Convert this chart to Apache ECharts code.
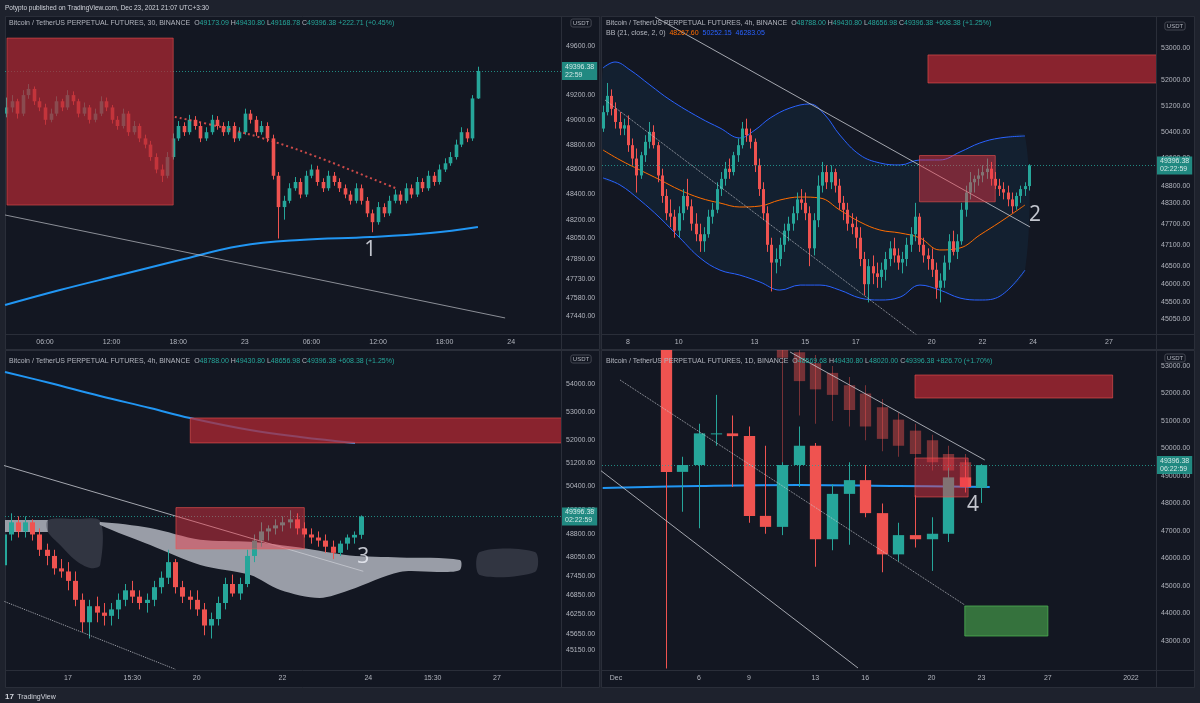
<!DOCTYPE html>
<html>
<head>
<meta charset="utf-8">
<title>BTCUSDT multi-timeframe</title>
<script src="https://cdn.jsdelivr.net/npm/echarts@6/dist/echarts.min.js"></script>
<style>
html,body{margin:0;padding:0;background:#1e222d;overflow:hidden}
#chart{width:1200px;height:703px}
</style>
</head>
<body>
<div id="chart"></div>
<script>
// ---------------- DATA ----------------
// 30m candles [open, high, low, close], index 0 = Dec 22 02:30
const m30Candles = [
[49050,49180,49020,49100],[49100,49200,49060,49150],[49150,49170,49010,49050],[49050,49240,49030,49200],
[49200,49290,49170,49250],[49250,49270,49120,49150],[49150,49180,49070,49100],[49100,49130,48960,49000],
[49000,49090,48980,49050],[49050,49190,49030,49150],[49150,49170,49070,49100],[49100,49240,49080,49200],
[49200,49230,49120,49150],[49150,49170,49020,49050],[49050,49140,49030,49100],[49100,49120,48970,49000],
[49000,49090,48980,49050],[49050,49190,49030,49150],[49150,49180,49070,49100],[49100,49120,48970,49000],
[49000,49030,48920,48950],[48950,49090,48930,49050],[49050,49070,48870,48900],[48900,48990,48880,48950],
[48950,48970,48820,48850],[48850,48880,48770,48800],[48800,48830,48670,48700],[48700,48730,48570,48600],
[48600,48640,48500,48550],[48550,48740,48530,48700],[48700,48890,48680,48850],[48850,48990,48830,48950],
[48950,48980,48870,48900],[48900,49040,48880,49000],[49000,49030,48920,48950],[48950,48980,48820,48850],
[48850,48940,48830,48900],[48900,49040,48880,49000],[49000,49030,48920,48950],[48950,48980,48870,48900],
[48900,48990,48880,48950],[48950,48980,48820,48850],[48850,48940,48830,48900],[48900,49090,48880,49050],
[49050,49080,48970,49000],[49000,49030,48870,48900],[48900,48990,48880,48950],[48950,48980,48820,48850],
[48850,48880,48520,48550],[48550,48580,48050,48300],[48300,48390,48200,48350],[48350,48490,48330,48450],
[48450,48540,48430,48500],[48500,48530,48370,48400],[48400,48590,48380,48550],[48550,48640,48530,48600],
[48600,48630,48470,48500],[48500,48530,48420,48450],[48450,48590,48430,48550],[48550,48580,48470,48500],
[48500,48530,48420,48450],[48450,48480,48370,48400],[48400,48430,48320,48350],[48350,48490,48330,48450],
[48450,48480,48320,48350],[48350,48380,48220,48250],[48250,48280,48100,48180],[48180,48340,48160,48300],
[48300,48330,48220,48250],[48250,48390,48230,48350],[48350,48440,48330,48400],[48400,48430,48320,48350],
[48350,48490,48330,48450],[48450,48480,48370,48400],[48400,48540,48380,48500],[48500,48530,48420,48450],
[48450,48590,48430,48550],[48550,48580,48470,48500],[48500,48640,48480,48600],[48600,48690,48580,48650],
[48650,48740,48630,48700],[48700,48840,48680,48800],[48800,48940,48780,48900],[48900,48930,48820,48850],
[48850,49200,48830,49173.09],[49173.09,49430.80,49168.78,49396.38]
];
// 4h candles [open, high, low, close], index 0 = Dec 7 first bar
const h4Candles = [
[50500,51200,50400,51000],[51000,51900,50900,51500],[51500,51700,50900,51100],[51100,51300,50500,50700],[50700,51000,50300,50500],[50500,50800,50300,50600],
[50600,50900,49800,50000],[50000,50200,49400,49600],[49600,49900,48600,49100],[49100,49800,49000,49700],[49700,50300,49500,50100],[50100,50700,49900,50400],
[50400,50600,49900,50000],[50000,50100,48900,49100],[49100,49300,48300,48500],[48500,48700,47800,48000],[48000,48400,47600,47900],[47900,48100,47300,47500],
[47500,48200,47300,48000],[48000,48700,47800,48500],[48500,49000,48100,48200],[48200,48400,47500,47700],[47700,48000,47200,47400],[47400,47700,46900,47200],
[47200,47600,46900,47400],[47400,48100,47300,47900],[47900,48300,47700,48100],[48100,48900,48000,48700],[48700,49200,48500,49000],[49000,49500,48800,49300],
[49300,49600,49000,49200],[49200,49800,49100,49700],[49700,50200,49500,50000],[50000,50700,49900,50500],[50500,50800,50100,50300],[50300,50500,49900,50100],
[50100,50200,49200,49400],[49400,49600,48500,48700],[48700,48900,47800,48000],[48000,48200,46900,47100],[47100,47300,45800,46600],[46600,47000,46300,46700],
[46700,47300,46500,47100],[47100,47700,46900,47500],[47500,47900,47200,47700],[47700,48200,47500,48000],[48000,48600,47800,48400],[48400,48700,48100,48300],
[48300,48600,47800,48000],[48000,48200,46500,47000],[47000,48000,46800,47800],[47800,49100,47600,48800],[48800,49500,48600,49200],[49200,49400,48700,48900],
[48900,49400,48700,49200],[49200,49300,48600,48800],[48800,49000,48100,48300],[48300,48500,47800,48100],[48100,48300,47500,47700],[47700,48000,47400,47600],
[47600,47900,47000,47300],[47300,47600,46500,46700],[46700,46900,45700,46000],[46000,46700,45500,46500],[46500,46800,46000,46300],[46300,46600,45900,46200],
[46200,46600,45900,46400],[46400,46900,46100,46700],[46700,47200,46500,47000],[47000,47300,46600,46800],[46800,47000,46400,46600],[46600,46900,46300,46700],
[46700,47300,46500,47100],[47100,47600,46900,47400],[47400,48300,47200,47900],[47900,48000,46900,47100],[47100,47300,46600,46800],[46800,47000,46400,46700],
[46700,47000,46200,46400],[46400,46600,45600,45900],[45900,46300,45500,46100],[46100,46800,45900,46600],[46600,47400,46400,47200],[47200,47500,46800,46900],
[46900,47400,46700,47200],[47200,48300,47100,48100],[48100,48800,47900,48600],[48600,49200,48400,48900],[48900,49100,48600,49000],[49000,49300,48800,49100],
[49100,49400,48900,49200],[49200,49600,49000,49300],[49300,49500,48800,49000],[49000,49200,48700,48800],[48800,49000,48500,48700],[48700,48900,48400,48600],
[48600,48800,48200,48400],[48400,48600,48000,48200],[48200,48600,48100,48500],[48500,48800,48300,48700],[48700,48900,48500,48788],[48788,49430.80,48656.98,49396.38]
];
// daily candles [open, high, low, close], first = Dec 4
const d1Candles = [
[53600,53850,42000,49150],[49150,49700,47700,49400],[49400,50900,47100,50550],[50550,51950,50100,50550],
[50550,51200,48600,50450],[50450,50800,47300,47550],[47550,50100,46900,47150],[47150,49500,46850,49400],
[49400,50800,48600,50100],[50100,50200,45700,46700],[46700,48700,46300,48350],[48350,49500,46500,48850],
[48850,49400,47500,47650],[47650,48000,45500,46150],[46150,47300,45900,46850],[46850,48300,46400,46700],
[46700,47500,45550,46900],[46900,49300,46600,48950],[48950,49600,48400,48600],[48569.68,49430.80,48020,49396.38]
];
// projected "bars pattern" drawing on the daily chart [open, high, low, close], first = Dec 11
const d1Ghost = [
[53900,54100,49300,53300],[53500,53800,51200,52450],[53100,53400,50900,52150],[52750,53000,51000,51950],
[52300,52600,50800,51400],[52000,52300,50300,50800],[51500,51800,49900,50350],[51050,51300,49700,50100],
[50650,50900,49400,49800],[50300,50500,49200,49500],[49800,50100,48900,49200],[49500,49800,48700,48850]
];
const m30Start = 0, h4Start = 0, d1Start = 4, ghostStart = 11;

// moving averages / indicators [index, price]
const m30MA = [[-0.2,47526],[9.7,47644],[20.5,47762],[31.3,47880],[42.1,47991],[52.9,48039],[65.6,48062],[76.4,48094],[85,48142]];
const m30Trail = [[30.4,49023],[39.4,48934],[48.4,48821],[57.5,48676],[66.5,48516],[70.1,48452]];
const h4MA = [[51.19,54438],[57.48,54036],[64.48,53566],[71.47,53135],[77.06,52779],[85.45,52354],[92.45,52108],[100.14,51898]];
const d1MA = [[0.2,48564],[6,48636],[12,48673],[18,48636],[23.5,48600]];
const bbUpper = [[0.07,52368],[2.9,52557],[6.5,52305],[11.2,51837],[16,51373],[23.1,50821],[27.8,50517],[32.5,50216],[36.1,50457],[39.7,50821],[44.4,51127],[49.1,51250],[52.7,50912],[56.2,50306],[61,49706],[65.7,49469],[70.5,49410],[75.2,49558],[79.9,49558],[84.7,49796],[89.4,50065],[94.2,50216],[100.1,50276]];
const bbLower = [[0.07,49027],[4.1,48821],[8.8,48382],[13.6,47863],[18.3,47293],[23.1,46730],[27.8,46391],[32.5,46252],[37.3,46059],[42,45838],[46.8,45976],[51.5,45976],[56.2,45838],[61,45619],[65.7,45566],[70.5,45646],[75.2,45976],[79.9,45838],[84.7,45619],[89.4,45566],[94.2,45674],[100.1,46391]];
const bbBasis = [[0.07,49855],[4.1,49558],[8.8,49262],[13.6,48968],[18.3,48673],[23.1,48440],[27.8,48295],[32.5,48180],[37.3,48209],[42,48382],[46.8,48469],[51.5,48440],[56.2,48093],[61,47748],[65.7,47520],[70.5,47434],[75.2,47293],[79.9,46954],[84.7,47010],[89.4,47378],[94.2,47748],[100.1,48238]];
// Ichimoku cloud pieces (upper edge, lower edge)
const kumoLight1Top = [[51.19,49278],[57.2,49278]];
const kumoLight1Bot = [[51.19,48880],[57.2,48880]];
const kumoDark1Top = [[57.2,49278],[61,49311],[64.5,49243]];
const kumoDark1Bot = [[57.2,48880],[58.9,48456],[61,47969],[63.1,47710],[64.5,47807]];
const kumoLight2Top = [[64.5,49212],[71.5,49015],[78.5,48627],[85.5,48562],[92.4,48371],[99.4,48115],[106.4,48051],[114.8,47969]];
const kumoLight2Bot = [[64.5,49114],[71.5,48456],[78.5,47807],[85.5,47487],[89.7,47010],[95.2,46759],[99.4,47010],[106.4,47583],[112,47583],[114.8,47647]];
const kumoDark2Top = [[117.6,48227],[125.3,48227]];
const kumoDark2Bot = [[117.6,47487],[125.3,47583]];

// drawings: zones [x1, x2, low, high]; lines [[x,p],[x,p]]
const m30Zones = [[0.15,30.1,48316,49665]];
const h4ResZone = [[77.1,140,51900,52780]];
const h4BoxZone = [[75.1,93.05,48330,49690]];
const d1ResZone = [[19,30.9,51836,52673]];
const d1BoxZone = [[19,22.2,48237,49655]];
const d1TargetZone = [[22,27,43182,44273]];
const m30Trend = [[-0.2,48237],[89.9,47425]];
const h4TrendUpper = [[12.4,53994],[101.3,47606]];
const h4TrendDotted = [[0.55,51373],[75,44570]];
const d1TrendSolid = [[0.04,49218],[15.57,42018]];
const d1TrendUpper = [[11.48,53509],[23.2,49582]];
const d1TrendDotted = [[1.24,52491],[22.0,44309]];

// annotations [x, price]
const notes = [[65.6,47959],[102.5,47949],[101.3,48066],[22.5,47945]];
const noteText = ['1','2','3','4'];
const lastPrice = 49396.38;
const timers = ['22:59','02:22:59','02:22:59','06:22:59'];

// tick labels
const m30TickPos = [7,19,31,43,55,67,79,91];
const m30TickText = ['06:00','12:00','18:00','23','06:00','12:00','18:00','24'];
const h4TickPosTR = [6,18,36,48,60,78,90,102,120];
const h4TickTextTR = ['8','10','13','15','17','20','22','24','27'];
const h4TickPosBL = [60,69,78,90,102,111,120];
const h4TickTextBL = ['17','15:30','20','22','24','15:30','27'];
const d1TickPos = [1,6,9,13,16,20,23,27,32];
const d1TickText = ['Dec','6','9','13','16','20','23','27','2022'];
const yTicksTL = [49600,49200,49000,48800,48600,48400,48200,48050,47890,47730,47580,47440];
const yTicksTR = [53000,52000,51200,50400,49600,48800,48300,47700,47100,46500,46000,45500,45050];
const yTicksBL = [54000,53000,52000,51200,50400,49600,48800,48050,47450,46850,46250,45650,45150];
const yTicksBR = [53000,52000,51000,50000,49000,48000,47000,46000,45000,44000,43000];

// ---------------- STYLE / BUILD ----------------
const FONT = "'Liberation Sans', Arial, sans-serif";
const UP = '#26a69a', DN = '#ef5350', TXT = '#b2b5be';
const PANEL = '#131722', SEP = '#2a2e39';
const G = [
  {left:5, top:16, width:556, height:318},
  {left:602, top:16, width:554, height:318},
  {left:5, top:350, width:556, height:320},
  {left:602, top:350, width:554, height:320}
];
const XR = [[-0.207,99.97],[-0.163,131.15],[51.19,128.95],[0.157,33.51]];
const YR = [[47299.7,49845.9,'log'],[44646.5,54026.9,'log'],[44546.4,55249.7,'log'],[41945.5,53581.8,'value']];

function xAx(i, pos, txt){
  return {type:'value', gridIndex:i, min:XR[i][0], max:XR[i][1],
    axisLine:{show:false}, axisTick:{show:false}, splitLine:{show:false},
    axisLabel:{customValues:pos, formatter:v=>{const k=pos.indexOf(v);return k<0?'':txt[k];}, color:TXT, fontSize:7, margin:5, fontFamily:FONT}};
}
function yAx(i, ticks){
  return {type:YR[i][2], logBase:10, gridIndex:i, position:'right', min:YR[i][0], max:YR[i][1],
    axisLine:{show:false}, axisTick:{show:false}, splitLine:{show:false},
    axisLabel:{customValues:ticks, formatter:v=>Number(v).toFixed(2), color:TXT, fontSize:7, margin:5, fontFamily:FONT}};
}
function clipGroup(params, children){
  const c = params.coordSys;
  return {type:'group', children, clipPath:{type:'rect', shape:{x:c.x, y:c.y, width:c.width, height:c.height}}};
}
function candleSeries(ax, rows, start, ratio, up, dn, z){
  return {type:'custom', xAxisIndex:ax, yAxisIndex:ax, z:z||3, silent:true, animation:false,
    data: rows.map((r,k)=>[start+k, r[0], r[1], r[2], r[3]]),
    encode:{x:0, y:[1,2,3,4]},
    renderItem:(params, api)=>{
      const x=api.value(0), o=api.value(1), h=api.value(2), l=api.value(3), c=api.value(4);
      const po=api.coord([x,o]), pc=api.coord([x,c]), ph=api.coord([x,h]), pl=api.coord([x,l]);
      const step=Math.abs(api.coord([x+1,o])[0]-po[0]);
      const bw=Math.max(1, step*ratio);
      const col=c>=o?up:dn;
      const top=Math.min(po[1],pc[1]), bh=Math.max(1,Math.abs(po[1]-pc[1]));
      const xc=Math.round(po[0])+0.5;
      return clipGroup(params,[
        {type:'line', shape:{x1:xc,y1:ph[1],x2:xc,y2:pl[1]}, style:{stroke:col, lineWidth:1}},
        {type:'rect', shape:{x:xc-bw/2, y:top, width:bw, height:bh}, style:{fill:col}}
      ]);
    }};
}
function zoneSeries(ax, zones, fill, stroke, z){
  return {type:'custom', xAxisIndex:ax, yAxisIndex:ax, z:z||6, silent:true, animation:false, data:zones, encode:{x:[0,1], y:[2,3]},
    renderItem:(params, api)=>{
      const a=api.coord([api.value(0), api.value(3)]), b=api.coord([api.value(1), api.value(2)]);
      return clipGroup(params,[{type:'rect', shape:{x:a[0], y:a[1], width:b[0]-a[0], height:b[1]-a[1]}, style:{fill, stroke, lineWidth:1}}]);
    }};
}
function areaSeries(ax, upper, lower, fill, z, smooth){
  return {type:'custom', xAxisIndex:ax, yAxisIndex:ax, z:z||1, silent:true, animation:false, data:[upper[0]], encode:{x:0, y:1},
    renderItem:(params, api)=>{
      const pts = upper.map(p=>api.coord(p)).concat(lower.slice().reverse().map(p=>api.coord(p)));
      return clipGroup(params,[{type:'polygon', shape:{points:pts, smooth:smooth||0}, style:{fill}}]);
    }};
}
function lineSeries(ax, pts, color, width, type, smooth, z){
  return {type:'line', xAxisIndex:ax, yAxisIndex:ax, data:pts, showSymbol:false, symbol:'none', smooth:smooth||false, clip:true, silent:true, z:z||5, animation:false,
    lineStyle:{color, width, type:type||'solid'}};
}
function priceLine(ax, timer){
  return {type:'line', xAxisIndex:ax, yAxisIndex:ax, data:[], z:10, animation:false,
    markLine:{silent:true, symbol:['none','none'], animation:false, data:[{yAxis:lastPrice}],
      lineStyle:{color:UP, type:[1,2], width:1, opacity:0.8},
      label:{show:true, position:'end', distance:1, formatter:lastPrice.toFixed(2)+'\n'+timer, backgroundColor:UP, color:'#ffffff', fontSize:7, lineHeight:8, padding:[1,3,1,3], fontFamily:FONT}}};
}
function noteSeries(ax, k){
  return {type:'scatter', xAxisIndex:ax, yAxisIndex:ax, data:[notes[k]], symbolSize:1, itemStyle:{color:'rgba(0,0,0,0)'}, z:20, silent:true, animation:false,
    label:{show:true, position:'inside', formatter:noteText[k], color:'#f0f3fa', fontSize:21, fontFamily:"'Open Sans', sans-serif"}};
}

const series = [
  // TL 30m
  candleSeries(0, m30Candles, m30Start, 0.65, UP, DN),
  lineSeries(0, m30MA, '#2196f3', 2, 'solid', 0.4),
  lineSeries(0, m30Trail, 'rgba(239,83,80,0.85)', 2, [2,3], 0.4, 4),
  lineSeries(0, m30Trend, 'rgba(190,193,200,0.7)', 1),
  zoneSeries(0, m30Zones, 'rgba(178,40,51,0.72)', 'rgba(239,83,80,0.55)'),
  priceLine(0, timers[0]),
  noteSeries(0, 0),
  // TR 4h
  areaSeries(1, bbUpper, bbLower, 'rgba(33,150,243,0.07)', 1, 0.3),
  lineSeries(1, bbUpper, '#2962ff', 1, 'solid', 0.4, 2),
  lineSeries(1, bbLower, '#2962ff', 1, 'solid', 0.4, 2),
  lineSeries(1, bbBasis, '#ff6d00', 1, 'solid', 0.4, 2),
  candleSeries(1, h4Candles, h4Start, 0.7, UP, DN),
  zoneSeries(1, h4ResZone, 'rgba(178,40,51,0.75)', 'rgba(239,83,80,0.6)'),
  zoneSeries(1, h4BoxZone, 'rgba(242,54,69,0.45)', 'rgba(239,83,80,0.6)'),
  lineSeries(1, h4TrendUpper, 'rgba(200,203,210,0.8)', 1),
  lineSeries(1, h4TrendDotted, 'rgba(200,203,210,0.8)', 1, 'dotted'),
  priceLine(1, timers[1]),
  noteSeries(1, 1),
  // BL 4h
  areaSeries(2, kumoLight1Top, kumoLight1Bot, 'rgba(178,181,190,0.85)', 1, 0),
  areaSeries(2, kumoDark1Top, kumoDark1Bot, 'rgba(70,74,86,0.6)', 1, 0.3),
  areaSeries(2, kumoLight2Top, kumoLight2Bot, 'rgba(178,181,190,0.85)', 1, 0.3),
  areaSeries(2, kumoDark2Top, kumoDark2Bot, 'rgba(70,74,86,0.6)', 1, 0.3),
  lineSeries(2, h4MA, '#2196f3', 2, 'solid', 0.4, 2),
  candleSeries(2, h4Candles, h4Start, 0.7, UP, DN),
  zoneSeries(2, h4ResZone, 'rgba(178,40,51,0.75)', 'rgba(239,83,80,0.6)'),
  zoneSeries(2, h4BoxZone, 'rgba(242,54,69,0.45)', 'rgba(239,83,80,0.6)'),
  lineSeries(2, h4TrendUpper, 'rgba(200,203,210,0.8)', 1),
  lineSeries(2, h4TrendDotted, 'rgba(200,203,210,0.8)', 1, 'dotted'),
  priceLine(2, timers[2]),
  noteSeries(2, 2),
  // BR 1D
  lineSeries(3, d1MA, '#2196f3', 2, 'solid', 0.4, 2),
  candleSeries(3, d1Ghost, ghostStart, 0.68, 'rgba(239,83,80,0.45)', 'rgba(239,83,80,0.45)', 2),
  candleSeries(3, d1Candles, d1Start, 0.68, UP, DN),
  zoneSeries(3, d1ResZone, 'rgba(178,40,51,0.75)', 'rgba(239,83,80,0.6)'),
  zoneSeries(3, d1BoxZone, 'rgba(242,54,69,0.45)', 'rgba(239,83,80,0.6)'),
  zoneSeries(3, d1TargetZone, 'rgba(76,175,80,0.6)', 'rgba(76,175,80,0.8)'),
  lineSeries(3, d1TrendSolid, 'rgba(200,203,210,0.8)', 1),
  lineSeries(3, d1TrendUpper, 'rgba(200,203,210,0.8)', 1),
  lineSeries(3, d1TrendDotted, 'rgba(200,203,210,0.8)', 1, 'dotted'),
  priceLine(3, timers[3]),
  noteSeries(3, 3)
];

function header(x, y, name, o, h, l, c, ch){
  return {type:'text', x, y, z:100, silent:true, style:{
    text:`{n|${name}}  {k|O}{v|${o}} {k|H}{v|${h}} {k|L}{v|${l}} {k|C}{v|${c}} {v|${ch}}`,
    font:`7px ${FONT}`, fill:TXT, verticalAlign:'middle',
    rich:{n:{fill:TXT, fontSize:7, fontFamily:FONT}, k:{fill:TXT, fontSize:7, fontFamily:FONT}, v:{fill:UP, fontSize:7, fontFamily:FONT}}}};
}
function panelBg(x, y, w, h, px, ty){
  return [
    {type:'rect', z:-10, silent:true, shape:{x, y, width:w, height:h}, style:{fill:PANEL, stroke:SEP, lineWidth:1}},
    {type:'line', z:-9, silent:true, shape:{x1:px, y1:y, x2:px, y2:y+h}, style:{stroke:SEP, lineWidth:1}},
    {type:'line', z:-9, silent:true, shape:{x1:x, y1:ty, x2:x+w, y2:ty}, style:{stroke:SEP, lineWidth:1}}
  ];
}
function usdt(x, y){
  return {type:'text', x, y, z:100, silent:true, style:{text:'USDT', fill:TXT, font:`6px ${FONT}`, align:'center', verticalAlign:'middle', borderColor:'#434651', borderWidth:1, borderRadius:2, padding:[1,2]}};
}

const graphic = [].concat(
  panelBg(5.5,16.5,594,333,561.5,334.5),
  panelBg(601.5,16.5,593,333,1156.5,334.5),
  panelBg(5.5,350.5,594,337,561.5,670.5),
  panelBg(601.5,350.5,593,337,1156.5,670.5),
  [
    {type:'text', x:5, y:8, z:100, silent:true, style:{text:'Potypto published on TradingView.com, Dec 23, 2021 21:07 UTC+3:30', fill:'#d1d4dc', font:`6.5px ${FONT}`, verticalAlign:'middle'}},
    header(9, 23, 'Bitcoin / TetherUS PERPETUAL FUTURES, 30, BINANCE', '49173.09', '49430.80', '49168.78', '49396.38', '+222.71 (+0.45%)'),
    header(606, 23, 'Bitcoin / TetherUS PERPETUAL FUTURES, 4h, BINANCE', '48788.00', '49430.80', '48656.98', '49396.38', '+608.38 (+1.25%)'),
    {type:'text', x:606, y:33, z:100, silent:true, style:{text:'{n|BB (21, close, 2, 0)}  {o|48267.60}  {b|50252.15}  {b|46283.05}', font:`7px ${FONT}`, verticalAlign:'middle',
      rich:{n:{fill:TXT, fontSize:7, fontFamily:FONT}, o:{fill:'#ff6d00', fontSize:7, fontFamily:FONT}, b:{fill:'#2962ff', fontSize:7, fontFamily:FONT}}}},
    header(9, 361, 'Bitcoin / TetherUS PERPETUAL FUTURES, 4h, BINANCE', '48788.00', '49430.80', '48656.98', '49396.38', '+608.38 (+1.25%)'),
    header(606, 361, 'Bitcoin / TetherUS PERPETUAL FUTURES, 1D, BINANCE', '48569.68', '49430.80', '48020.00', '49396.38', '+826.70 (+1.70%)'),
    usdt(581, 23), usdt(1175, 26), usdt(581, 359), usdt(1175, 358),
    {type:'text', x:5, y:697, z:100, silent:true, style:{text:'{l|17} {t|TradingView}', verticalAlign:'middle',
      rich:{l:{fill:'#d1d4dc', fontSize:8, fontWeight:'bold', fontFamily:FONT}, t:{fill:'#d1d4dc', fontSize:7, fontFamily:FONT}}}}
  ]
);

const chart = echarts.init(document.getElementById('chart'), null, {renderer:'canvas'});
chart.setOption({
  backgroundColor:'#1e222d',
  animation:false,
  grid: G.map(g=>Object.assign({containLabel:false, show:false}, g)),
  xAxis:[xAx(0,m30TickPos,m30TickText), xAx(1,h4TickPosTR,h4TickTextTR), xAx(2,h4TickPosBL,h4TickTextBL), xAx(3,d1TickPos,d1TickText)],
  yAxis:[yAx(0,yTicksTL), yAx(1,yTicksTR), yAx(2,yTicksBL), yAx(3,yTicksBR)],
  series,
  graphic
});
</script>
</body>
</html>
